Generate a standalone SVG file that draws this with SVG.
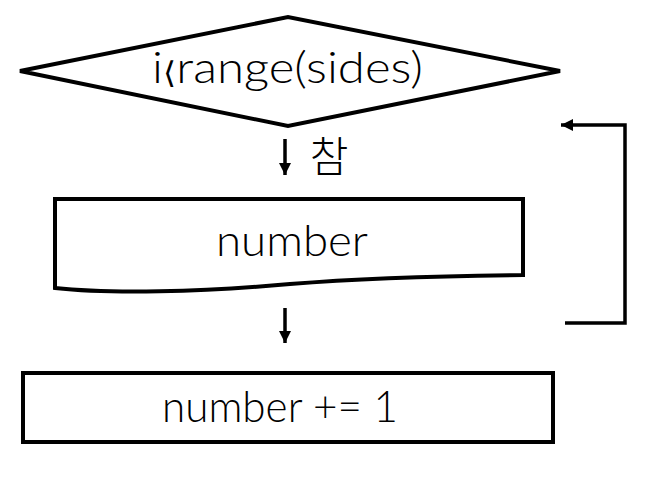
<svg xmlns="http://www.w3.org/2000/svg" width="659" height="477" viewBox="0 0 659 477">
<style>
.shape{fill:#fff;stroke:#000;stroke-width:4;stroke-linejoin:miter}
.lbl{font-family:Lato,"Noto Sans CJK KR",sans-serif;font-weight:300;font-size:44px;fill:#000;text-anchor:middle}
.kr{font-family:"Noto Sans CJK KR",sans-serif;font-weight:300;font-size:42px;fill:#000;text-anchor:middle}
.br{font-family:"DejaVu Sans",sans-serif;font-weight:300;font-size:30px}
.con{fill:none;stroke:#000;stroke-width:3.5}
</style>
<defs>
<marker id="ah" viewBox="0 0 12 12" refX="12" refY="6" markerWidth="12" markerHeight="12" markerUnits="userSpaceOnUse" orient="auto">
<path d="M0,0 L12,6 L0,12 Z" fill="#000"/>
</marker>
</defs>
<rect width="659" height="477" fill="#fff"/>
<g id="decision">
<polygon class="shape" points="20,71 288,17 560,71 288,126"/>
<text class="lbl" x="287.5" y="83" textLength="271" lengthAdjust="spacingAndGlyphs">i<tspan class="br">⟨</tspan>range(sides)</text>
</g>
<g id="output">
<path class="shape" d="M55,199 H523 V275 C420,276 350,279 290,284 C200,292 110,294 55,288 Z"/>
<text class="lbl" x="292" y="256" textLength="152" lengthAdjust="spacingAndGlyphs">number</text>
</g>
<g id="process">
<rect class="shape" x="23" y="373" width="530" height="69"/>
<text class="lbl" x="280" y="422" textLength="236" lengthAdjust="spacingAndGlyphs">number += 1</text>
</g>
<g id="connectors">
<line class="con" x1="285" y1="139" x2="285" y2="175" marker-end="url(#ah)"/>
<text class="kr" x="329" y="172">참</text>
<line class="con" x1="285" y1="308" x2="285" y2="343" marker-end="url(#ah)"/>
<polyline class="con" points="565,323 625,323 625,125 561,125" marker-end="url(#ah)"/>
</g>
</svg>
